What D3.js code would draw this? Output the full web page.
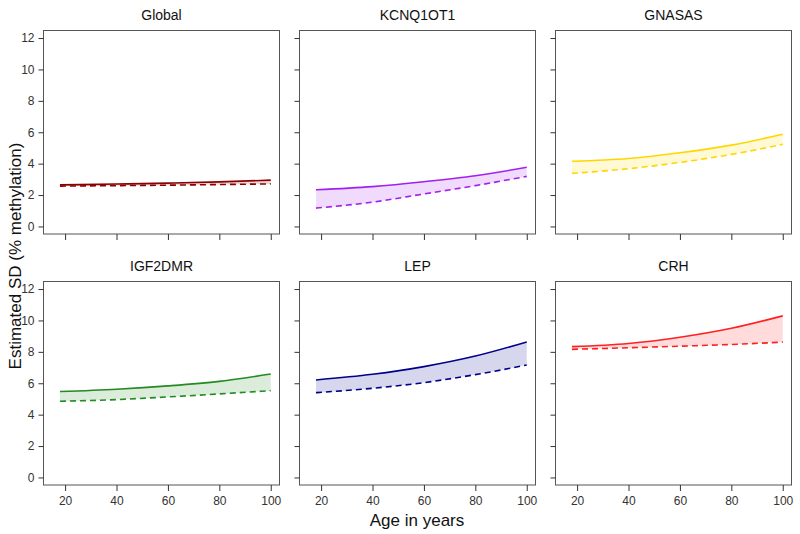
<!DOCTYPE html>
<html>
<head>
<meta charset="utf-8">
<script src="https://cdn.jsdelivr.net/npm/d3@7"></script>
<style>
  html, body { margin: 0; padding: 0; background: #fff; }
  svg { display: block; }
  text { font-family: "Liberation Sans", Arial, sans-serif; }
</style>
</head>
<body>
<svg id="chart" width="800" height="534"></svg>
<script>
// ---- data ----
const ages = [18, 40, 60, 80, 100];
const panelNames = ["Global", "KCNQ1OT1", "GNASAS", "IGF2DMR", "LEP", "CRH"];
const panelColors = ["#8B0000", "#A020F0", "#FFD700", "#228B22", "#00008B", "#FF2020"];
const solidGlobal   = [2.65, 2.70, 2.76, 2.84, 2.95];
const dashedGlobal  = [2.57, 2.60, 2.63, 2.67, 2.71];
const solidKCNQ1OT1  = [2.34, 2.54, 2.85, 3.23, 3.77];
const dashedKCNQ1OT1 = [1.17, 1.55, 2.07, 2.60, 3.19];
const solidGNASAS   = [4.15, 4.33, 4.69, 5.18, 5.87];
const dashedGNASAS  = [3.38, 3.68, 4.08, 4.59, 5.23];
const solidIGF2DMR  = [5.47, 5.62, 5.83, 6.12, 6.59];
const dashedIGF2DMR = [4.85, 4.96, 5.13, 5.32, 5.53];
const solidLEP      = [6.21, 6.57, 7.06, 7.73, 8.63];
const dashedLEP     = [5.40, 5.68, 6.04, 6.55, 7.16];
const solidCRH      = [8.33, 8.53, 8.93, 9.50, 10.29];
const dashedCRH     = [8.16, 8.26, 8.36, 8.47, 8.62];
const xTicks = [20, 40, 60, 80, 100];
const yTicks = [0, 2, 4, 6, 8, 10, 12];
const yLabel = "Estimated SD (% methylation)";
const xLabel = "Age in years";

const solids = [solidGlobal, solidKCNQ1OT1, solidGNASAS, solidIGF2DMR, solidLEP, solidCRH];
const dasheds = [dashedGlobal, dashedKCNQ1OT1, dashedGNASAS, dashedIGF2DMR, dashedLEP, dashedCRH];

// ---- layout ----
const svg = d3.select("#chart");
const colLeft = [43.5, 299.5, 555.5];
const rowTop = [30.5, 281.5];
const pw = 236, ph = 203.5;

panelNames.forEach((name, i) => {
  const col = i % 3, row = Math.floor(i / 3);
  const g = svg.append("g").attr("transform", `translate(${colLeft[col]},${rowTop[row]})`);
  const x = d3.scaleLinear().domain([11.6, 103.4]).range([0, pw]);
  const y = d3.scaleLinear().domain([-0.48, 12.48]).range([ph, 0]);
  const color = panelColors[i];
  const pts = ages.map((a, k) => ({a, s: solids[i][k], d: dasheds[i][k]}));
  const curve = d3.curveMonotoneX;

  g.append("path").datum(pts)
    .attr("d", d3.area().x(p => x(p.a)).y0(p => y(p.d)).y1(p => y(p.s)).curve(curve))
    .attr("fill", color).attr("fill-opacity", 0.16).attr("stroke", "none");
  g.append("path").datum(pts)
    .attr("d", d3.line().x(p => x(p.a)).y(p => y(p.s)).curve(curve))
    .attr("fill", "none").attr("stroke", color).attr("stroke-width", 1.6);
  g.append("path").datum(pts)
    .attr("d", d3.line().x(p => x(p.a)).y(p => y(p.d)).curve(curve))
    .attr("fill", "none").attr("stroke", color).attr("stroke-width", 1.6)
    .attr("stroke-dasharray", "6,4");

  // frame
  g.append("rect").attr("x", 0).attr("y", 0).attr("width", pw).attr("height", ph)
    .attr("fill", "none").attr("stroke", "#555").attr("stroke-width", 1);

  // y axis
  const ya = g.append("g").call(d3.axisLeft(y).tickValues(yTicks).tickSize(5)
      .tickFormat(col === 0 ? d3.format("d") : () => ""));
  ya.select(".domain").remove();
  ya.selectAll(".tick line").attr("stroke", "#333");
  ya.selectAll(".tick text").attr("font-size", 12).attr("fill", "#333")
    .attr("font-family", "Liberation Sans, Arial, sans-serif").attr("dx", "-1");

  // x axis
  const xa = g.append("g").attr("transform", `translate(0,${ph})`)
    .call(d3.axisBottom(x).tickValues(xTicks).tickSize(6)
      .tickFormat(row === 1 ? d3.format("d") : () => ""));
  xa.select(".domain").remove();
  xa.selectAll(".tick line").attr("stroke", "#333");
  xa.selectAll(".tick text").attr("font-size", 12).attr("fill", "#333")
    .attr("font-family", "Liberation Sans, Arial, sans-serif").attr("dy", "0.9em");

  // title
  g.append("text").attr("x", pw / 2).attr("y", -11).attr("text-anchor", "middle")
    .attr("font-size", 14).attr("fill", "#111").text(name);
});

svg.append("text").attr("transform", "translate(21,256) rotate(-90)")
  .attr("text-anchor", "middle").attr("font-size", 17).attr("fill", "#111").text(yLabel);
svg.append("text").attr("x", 417).attr("y", 526).attr("text-anchor", "middle")
  .attr("font-size", 17).attr("fill", "#111").text(xLabel);
</script>
</body>
</html>
